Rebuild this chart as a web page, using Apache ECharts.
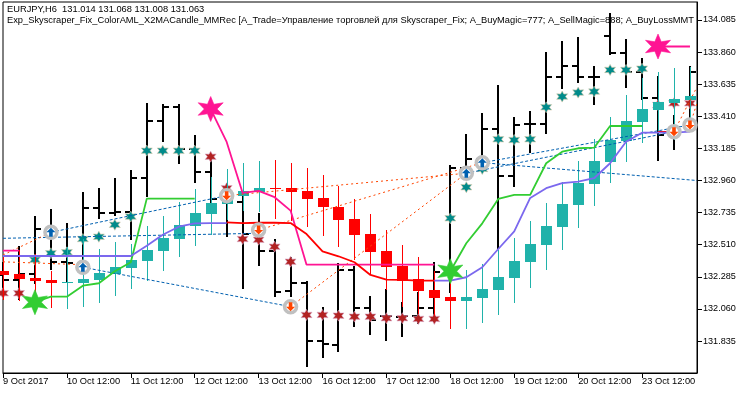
<!DOCTYPE html>
<html>
<head>
<meta charset="utf-8">
<style>
  html, body { margin: 0; padding: 0; background: #fff; }
  #chart { width: 750px; height: 394px; }
</style>
<script src="https://cdn.jsdelivr.net/npm/echarts@6/dist/echarts.min.js"></script>
</head>
<body>
<div id="chart"></div>
<script>
const titleTop = 'EURJPY,H6  131.014 131.068 131.008 131.063';
const titleSub = 'Exp_Skyscraper_Fix_ColorAML_X2MACandle_MMRec [A_Trade=Управление торговлей для Skyscraper_Fix; A_BuyMagic=777; A_SellMagic=888; A_BuyLossMMT';

// one x unit = one H6 bar
const xTicks = [0, 4, 8, 12, 16, 20, 24, 28, 32, 36, 40];
const xLabels = ['9 Oct 2017', '10 Oct 12:00', '11 Oct 12:00', '12 Oct 12:00', '13 Oct 12:00', '16 Oct 12:00', '17 Oct 12:00', '18 Oct 12:00', '19 Oct 12:00', '20 Oct 12:00', '23 Oct 12:00'];
const yTicks = [131.835, 132.06, 132.285, 132.51, 132.735, 132.96, 133.185, 133.41, 133.635, 133.86, 134.085];

// black price bars
const barOpen = [132.298, 132.265, 132.305, 132.623, 132.389, 132.384, 132.768, 132.733, 132.742, 132.980, 133.379, 133.477, 133.181, 133.022, 132.824, 132.812, 132.585, 132.468, 132.186, 132.242, 131.838, 131.810, 132.333, 132.067, 132.013, 132.006, 132.013, 132.067, 132.319, 133.048, 133.111, 133.321, 132.994, 133.356, 133.356, 133.688, 133.765, 133.688, 133.975, 133.852, 133.719, 133.541, 133.279, 133.335];
const barHigh = [132.389, 132.503, 132.714, 132.761, 132.662, 132.882, 132.908, 132.980, 133.034, 133.503, 133.496, 133.496, 133.279, 133.118, 132.943, 132.880, 132.733, 132.550, 132.424, 132.258, 132.074, 132.382, 132.363, 132.151, 132.200, 132.109, 132.179, 132.389, 133.069, 133.286, 133.433, 133.630, 133.407, 133.447, 133.863, 133.938, 133.966, 133.763, 134.134, 133.952, 133.819, 133.693, 133.419, 133.763];
const barLow = [132.193, 132.123, 132.235, 132.333, 132.249, 132.363, 132.690, 132.714, 132.543, 132.845, 133.232, 133.076, 132.943, 132.775, 132.566, 132.200, 132.363, 132.144, 132.144, 131.655, 131.716, 131.758, 131.934, 131.880, 131.838, 131.864, 131.955, 131.990, 132.172, 132.964, 133.034, 132.480, 132.917, 133.155, 133.286, 133.602, 133.644, 133.489, 133.840, 133.609, 133.524, 133.099, 133.174, 133.314];
const barClose = [132.263, 132.305, 132.623, 132.389, 132.384, 132.768, 132.733, 132.742, 132.980, 133.379, 133.477, 133.181, 133.022, 132.831, 132.812, 132.585, 132.468, 132.181, 132.242, 131.838, 131.815, 132.333, 132.067, 131.983, 132.013, 132.013, 132.067, 132.319, 133.050, 133.111, 133.321, 132.994, 133.349, 133.356, 133.688, 133.765, 133.688, 133.688, 133.852, 133.719, 133.541, 133.279, 133.335, 133.723];

// X2MA candles
const candleOpen = [132.324, 132.305, 132.277, 132.263, 132.242, 132.242, 132.263, 132.305, 132.347, 132.398, 132.468, 132.552, 132.644, 132.726, 132.796, 132.854, 132.878, 132.910, 132.910, 132.887, 132.838, 132.772, 132.690, 132.585, 132.464, 132.363, 132.268, 132.193, 132.142, 132.118, 132.139, 132.193, 132.279, 132.391, 132.510, 132.636, 132.791, 132.936, 133.092, 133.237, 133.372, 133.454, 133.503, 133.522];
const candleClose = [132.300, 132.270, 132.258, 132.242, 132.249, 132.270, 132.310, 132.352, 132.403, 132.473, 132.557, 132.646, 132.730, 132.801, 132.859, 132.889, 132.910, 132.903, 132.880, 132.831, 132.772, 132.686, 132.580, 132.461, 132.356, 132.258, 132.188, 132.139, 132.118, 132.142, 132.200, 132.282, 132.396, 132.515, 132.641, 132.796, 132.945, 133.097, 133.244, 133.377, 133.461, 133.508, 133.531, 133.552];
const candleHigh = [132.438, 132.473, 132.445, 132.328, 132.494, 132.550, 132.480, 132.531, 132.515, 132.641, 132.712, 132.807, 132.901, 132.987, 133.039, 133.083, 133.097, 133.104, 133.083, 133.046, 133.000, 132.922, 132.831, 132.726, 132.613, 132.508, 132.422, 132.326, 132.319, 132.333, 132.375, 132.473, 132.557, 132.674, 132.803, 132.948, 133.097, 133.251, 133.407, 133.559, 133.679, 133.719, 133.747, 133.758];
const candleLow = [132.123, 132.116, 132.095, 132.067, 132.060, 132.076, 132.102, 132.153, 132.200, 132.258, 132.328, 132.422, 132.503, 132.580, 132.684, 132.747, 132.740, 132.690, 132.679, 132.636, 132.573, 132.496, 132.403, 132.305, 132.193, 132.074, 132.025, 132.013, 131.920, 131.920, 131.962, 132.020, 132.102, 132.207, 132.333, 132.475, 132.627, 132.782, 132.945, 133.092, 133.223, 133.293, 133.244, 133.335];
const candleRed = [0, 1, 2, 3, 17, 18, 19, 20, 21, 22, 23, 24, 25, 26, 27, 28];

// ColorAML / Skyscraper lines, null = no line on that bar
const greenLine = [null, null, 132.107, 132.146, 132.146, 132.223, 132.240, 132.324, 132.387, 132.833, 132.833, 132.833, 132.833, null, null, null, null, null, null, null, null, null, null, null, null, null, null, null, 132.324, 132.520, 132.660, 132.831, 132.859, 132.859, 133.081, 133.162, 133.186, 133.190, 133.342, 133.342, 133.342, null, null, null];
const pinkLine = [132.468, 132.468, null, null, null, null, null, null, null, null, null, null, null, 133.461, 133.230, 132.873, 132.887, 132.843, 132.749, 132.370, 132.370, 132.370, 132.370, 132.370, 132.370, 132.370, 132.370, 132.370, null, null, null, null, null, null, null, null, null, null, null, null, null, 133.899, 133.899, 133.899];
const redLine = [null, null, null, null, null, null, null, null, null, null, null, null, null, null, 132.667, 132.662, 132.664, 132.664, 132.662, 132.585, 132.464, 132.429, 132.387, 132.298, 132.265, 132.263, 132.258, 132.258, null, null, null, null, null, null, null, null, null, null, null, null, null, 133.300, 133.300, null];
const purpleLine = [132.431, 132.431, 132.431, 132.431, 132.431, 132.431, 132.431, 132.431, 132.431, 132.503, 132.580, 132.636, 132.660, 132.662, 132.662, null, null, null, null, null, null, null, null, null, null, null, null, 132.258, 132.258, 132.282, 132.352, 132.480, 132.604, 132.838, 132.906, 132.941, 132.952, 132.976, 133.081, 133.232, 133.295, 133.295, 133.295, 133.302];

// signal markers [bar, price]
const tealStars = [[2, 132.405], [3, 132.450], [4, 132.457], [5, 132.550], [6, 132.566], [7, 132.650], [8, 132.707], [9, 133.169], [10, 133.169], [11, 133.169], [12, 133.169], [28, 132.695], [29, 132.913], [30, 133.041], [31, 133.249], [32, 133.244], [33, 133.249], [34, 133.473], [35, 133.548], [36, 133.576], [37, 133.583], [38, 133.735], [39, 133.735], [40, 133.744]];
const redStars = [[0, 132.170], [1, 132.170], [13, 133.127], [14, 132.906], [15, 132.550], [16, 132.545], [17, 132.496], [18, 132.391], [19, 132.018], [20, 132.018], [21, 132.013], [22, 132.006], [23, 132.006], [24, 131.995], [25, 131.995], [26, 131.990], [27, 131.990], [41, 133.489], [42, 133.501], [43, 133.501]];
const bigPink = [[13, 133.461], [41, 133.899]];
const bigGreen = [[2, 132.107], [28, 132.324]];

// trade arrows and the dotted lines joining them
const buyArrows = [[3, 132.597], [5, 132.352], [29, 133.011], [30, 133.085]];
const sellArrows = [[14, 132.854], [16, 132.613], [18, 132.076], [42, 133.302], [43, 133.349]];
const blueTrades = [
  [[0, 132.555], [16, 132.590]],
  [[3, 132.597], [14, 132.854]],
  [[5, 132.352], [18, 132.076]],
  [[29, 133.011], [42, 133.302]],
  [[30, 133.085], [43, 133.349]],
  [[30, 133.085], [43.44, 132.960]],
];
const redTrades = [
  [[0, 132.390], [5, 132.370]],
  [[0, 132.438], [3, 132.597]],
  [[14, 132.854], [29, 133.011]],
  [[16, 132.613], [30, 133.085]],
  [[18, 132.076], [29, 133.011]],
  [[42, 133.302], [43.44, 133.616]],
  [[43, 133.349], [43.44, 133.503]],
];

const FONT = 'Liberation Sans';
const STAR = 'path://M50 0L63 27L93 25L76 50L93 75L63 73L50 100L37 73L7 75L24 50L7 25L37 27Z';
const STAR_BIG = 'path://M50 0L61 31L93 25L72 50L93 75L61 69L50 100L39 69L7 75L28 50L7 25L39 31Z';
const ARROW_UP = 'path://M5 0L10 5H7V10H3V5H0Z';
const ARROW_DOWN = 'path://M3 0H7V5H10L5 10L0 5H3Z';

function toPairs(values) {
  return values.map((v, i) => [i, v]);
}

function lineSeries(values, color) {
  return {
    type: 'line',
    data: toPairs(values),
    symbol: 'none',
    connectNulls: false,
    silent: true,
    lineStyle: { color: color, width: 1.8 },
    z: 6,
  };
}

function tradeSeries(points, color, dash) {
  return {
    type: 'line',
    data: points,
    symbol: 'none',
    silent: true,
    lineStyle: { color: color, width: 1, type: dash },
    z: 5,
  };
}

function starSeries(data, symbol, color, size, border, z) {
  return {
    type: 'scatter',
    data: data,
    symbol: symbol,
    symbolSize: size,
    silent: true,
    itemStyle: { color: color, borderColor: border, borderWidth: 0.6, opacity: 1 },
    z: z,
  };
}

function arrowSeries(data, symbol, color) {
  return {
    type: 'scatter',
    data: data,
    symbol: symbol,
    symbolSize: 9,
    silent: true,
    itemStyle: { color: color, opacity: 1 },
    z: 9,
  };
}

function renderBar(params, api) {
  const x = Math.round(api.coord([api.value(0), 0])[0]);
  const o = Math.round(api.coord([0, api.value(1)])[1]);
  const h = Math.round(api.coord([0, api.value(2)])[1]);
  const l = Math.round(api.coord([0, api.value(3)])[1]);
  const c = Math.round(api.coord([0, api.value(4)])[1]);
  const style = { fill: '#000' };
  return {
    type: 'group',
    children: [
      { type: 'rect', shape: { x: x - 1, y: h, width: 2, height: l - h }, style: style },
      { type: 'rect', shape: { x: x - 6, y: o - 1, width: 6, height: 2 }, style: style },
      { type: 'rect', shape: { x: x, y: c - 1, width: 6, height: 2 }, style: style },
    ],
  };
}

function renderCandle(params, api) {
  const x = Math.round(api.coord([api.value(0), 0])[0]);
  const o = Math.round(api.coord([0, api.value(1)])[1]);
  const h = Math.round(api.coord([0, api.value(2)])[1]);
  const l = Math.round(api.coord([0, api.value(3)])[1]);
  const c = Math.round(api.coord([0, api.value(4)])[1]);
  const color = candleRed.includes(api.value(0)) ? '#FF0000' : '#20B2AA';
  const top = Math.min(o, c);
  const height = Math.max(Math.abs(o - c), 1);
  return {
    type: 'group',
    children: [
      { type: 'rect', shape: { x: x, y: h, width: 1, height: l - h }, style: { fill: color } },
      { type: 'rect', shape: { x: x - 5, y: top, width: 11, height: height }, style: { fill: color } },
    ],
  };
}

const chart = echarts.init(document.getElementById('chart'), null, { renderer: 'canvas' });

const option = {
  animation: false,
  backgroundColor: '#fff',
  title: [
    { text: titleTop, left: 7, top: 5, padding: 0, z: 1, textStyle: { fontFamily: FONT, fontSize: 9.3, fontWeight: 'normal', color: '#000' } },
    { text: titleSub, left: 7, top: 16, padding: 0, z: 1, textStyle: { fontFamily: FONT, fontSize: 9.3, fontWeight: 'normal', color: '#000' } },
  ],
  grid: { left: 2, right: 53, top: 2, bottom: 21, show: true, borderColor: '#000', borderWidth: 1, backgroundColor: '#fff' },
  xAxis: {
    type: 'value',
    min: 0,
    max: 43.44,
    splitLine: { show: false },
    axisLine: { show: true, lineStyle: { color: '#000' } },
    axisTick: { show: true, length: 5, customValues: xTicks, lineStyle: { color: '#000' } },
    axisLabel: {
      customValues: xTicks,
      formatter: (v) => xLabels[xTicks.indexOf(v)],
      align: 'left',
      margin: 4,
      fontFamily: FONT,
      fontSize: 9.3,
      color: '#000',
      hideOverlap: false,
    },
  },
  yAxis: {
    type: 'value',
    position: 'right',
    min: 131.611,
    max: 134.211,
    splitLine: { show: false },
    axisLine: { show: true, onZero: false, lineStyle: { color: '#000' } },
    axisTick: { show: true, length: 5, customValues: yTicks, lineStyle: { color: '#000' } },
    axisLabel: {
      customValues: yTicks,
      formatter: (v) => v.toFixed(3),
      margin: 6,
      fontFamily: FONT,
      fontSize: 9.1,
      color: '#000',
    },
  },
  series: [
    {
      type: 'custom',
      renderItem: renderBar,
      data: barOpen.map((v, i) => [i, v, barHigh[i], barLow[i], barClose[i]]),
      encode: { x: 0, y: [1, 2, 3, 4] },
      silent: true,
      z: 2,
    },
    starSeries(tealStars, STAR, '#008B8B', 11, '#d8c8a8', 3),
    starSeries(redStars, STAR, '#B22222', 11, '#d8a8c8', 3),
    {
      type: 'custom',
      renderItem: renderCandle,
      data: candleOpen.map((v, i) => [i, v, candleHigh[i], candleLow[i], candleClose[i]]),
      encode: { x: 0, y: [1, 2, 3, 4] },
      silent: true,
      z: 4,
    },
    ...blueTrades.map((t) => tradeSeries(t, '#0060B0', [3, 2])),
    ...redTrades.map((t) => tradeSeries(t, '#FF4500', [2, 3])),
    lineSeries(greenLine, '#32CD32'),
    lineSeries(pinkLine, '#FF1493'),
    lineSeries(redLine, '#FF0000'),
    lineSeries(purpleLine, '#7B68EE'),
    starSeries(bigPink, STAR_BIG, '#FF1493', 25, '#FF1493', 7),
    starSeries(bigGreen, STAR_BIG, '#32CD32', 25, '#32CD32', 7),
    {
      type: 'scatter',
      data: buyArrows.concat(sellArrows),
      symbol: 'circle',
      symbolSize: 12,
      silent: true,
      itemStyle: { color: '#fff', borderColor: '#C0C0C0', borderWidth: 3.5, opacity: 1 },
      z: 8,
    },
    arrowSeries(buyArrows, ARROW_UP, '#0060B0'),
    arrowSeries(sellArrows, ARROW_DOWN, '#FF4500'),
  ],
};

chart.setOption(option);
</script>
</body>
</html>
